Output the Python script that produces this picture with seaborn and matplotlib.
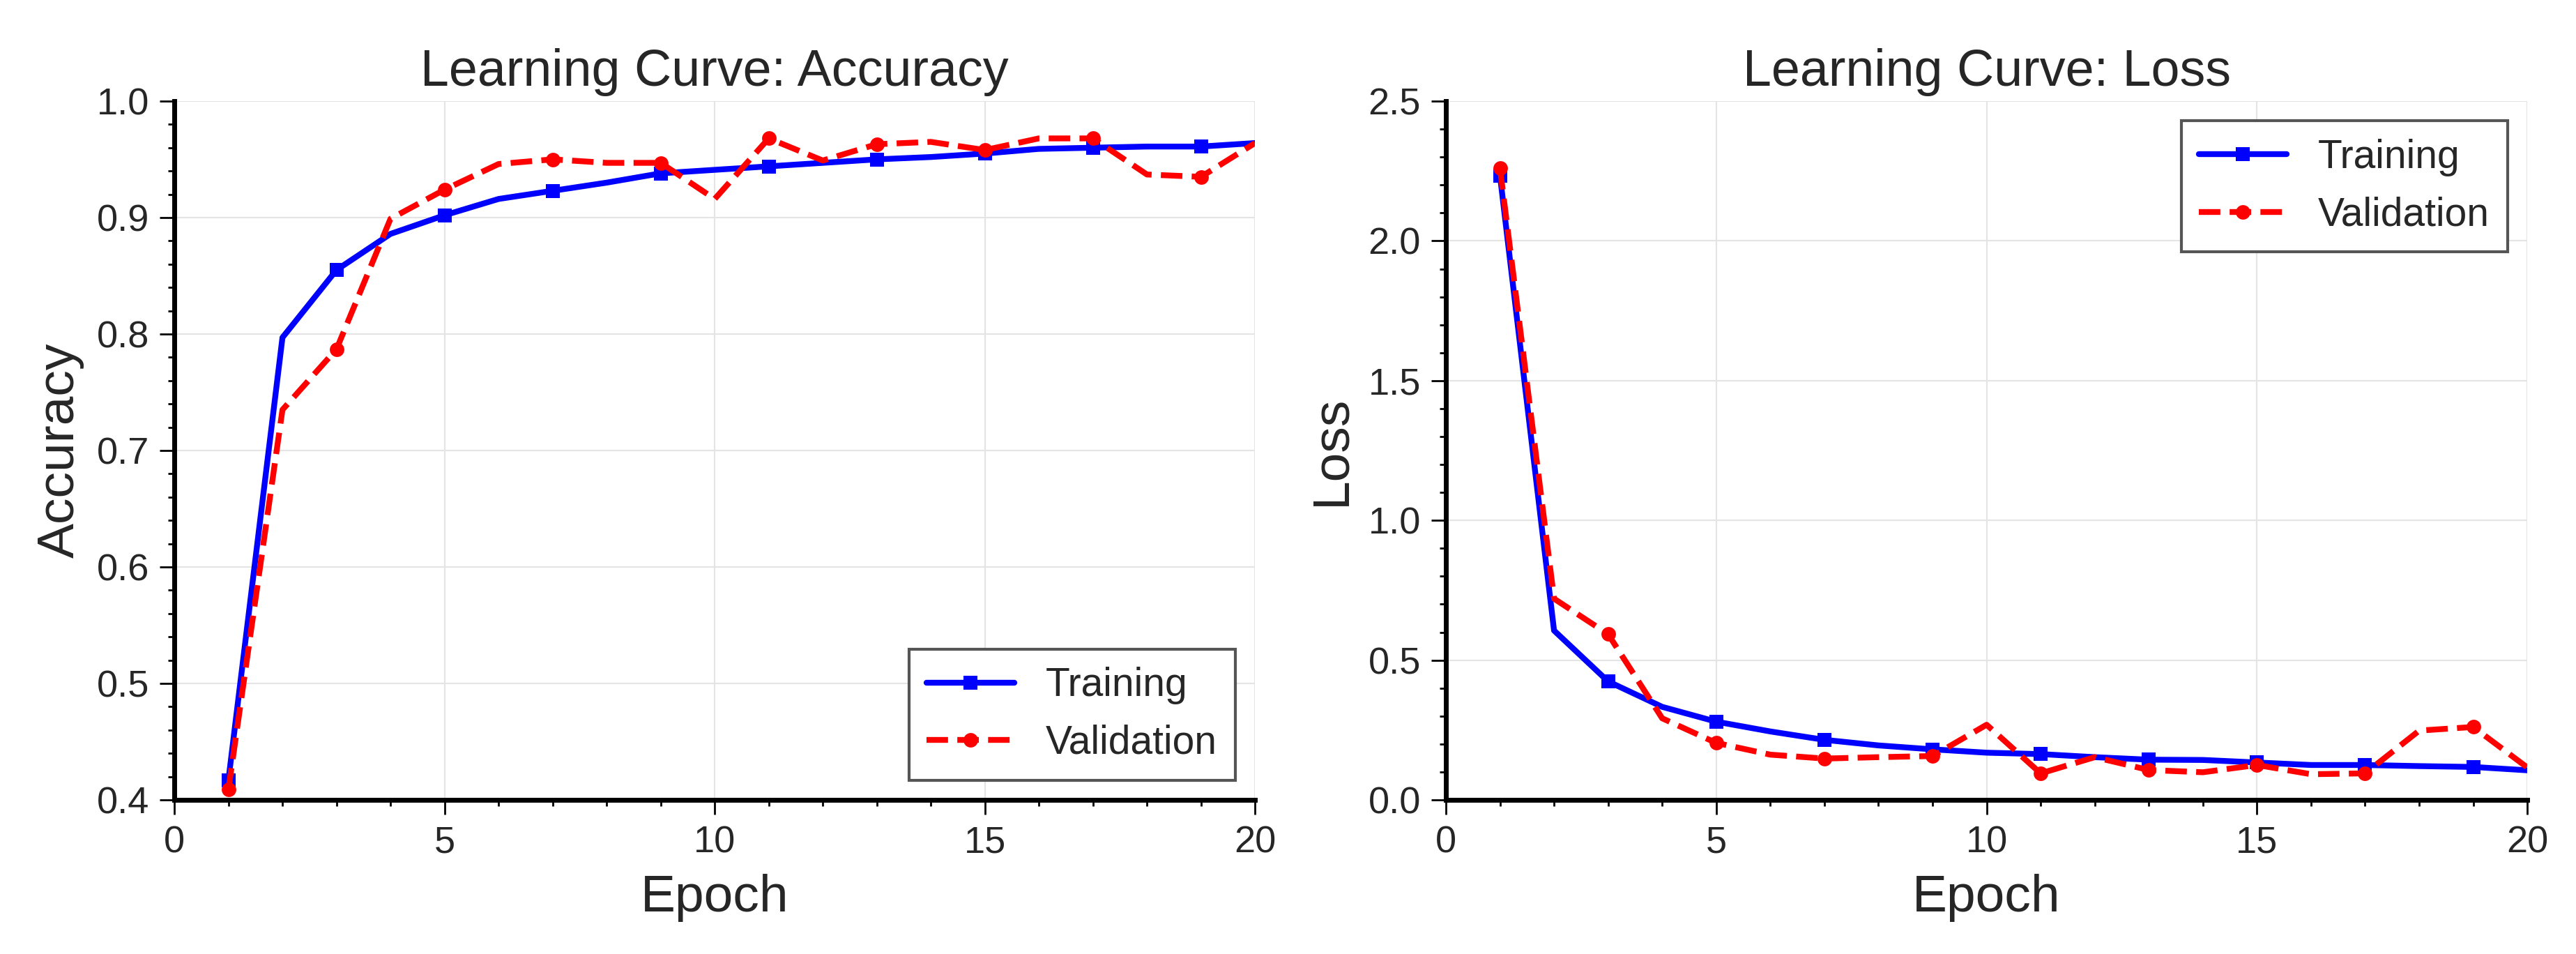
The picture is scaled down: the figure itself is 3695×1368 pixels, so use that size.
import pandas as pd
import matplotlib
matplotlib.use("Agg")
import matplotlib.pyplot as plt
import seaborn as sns
from matplotlib.ticker import MultipleLocator

# values
epochs = list(range(1, 21))
train_acc = [0.417, 0.797, 0.855, 0.886, 0.902, 0.916, 0.923, 0.930, 0.938, 0.941,
             0.944, 0.947, 0.950, 0.952, 0.955, 0.959, 0.960, 0.961, 0.961, 0.964]
val_acc = [0.409, 0.735, 0.787, 0.899, 0.924, 0.946, 0.950, 0.947, 0.947, 0.916,
           0.968, 0.949, 0.963, 0.965, 0.958, 0.968, 0.968, 0.937, 0.935, 0.964]
train_loss = [2.234, 0.606, 0.424, 0.333, 0.280, 0.245, 0.215, 0.195, 0.181, 0.169,
              0.164, 0.153, 0.144, 0.143, 0.134, 0.125, 0.125, 0.121, 0.118, 0.106]
val_loss = [2.26, 0.72, 0.593, 0.292, 0.204, 0.162, 0.148, 0.153, 0.157, 0.269,
            0.095, 0.153, 0.107, 0.099, 0.125, 0.092, 0.095, 0.248, 0.261, 0.116]

df = pd.DataFrame({
    "epoch": epochs,
    "train_acc": train_acc,
    "val_acc": val_acc,
    "train_loss": train_loss,
    "val_loss": val_loss,
})

sns.set_style("white")
plt.rcParams["font.family"] = ["Liberation Sans", "DejaVu Sans"]

fig = plt.figure(figsize=(36.95, 13.68), dpi=100)
ax1 = fig.add_axes([0.0677, 0.1615, 0.4195, 0.7325])
ax2 = fig.add_axes([0.5613, 0.1615, 0.4198, 0.7325])

line_kw = dict(lw=6, markersize=15, markevery=2)


def draw(ax, ytrain, yval, title, ylabel, ylim, ymajor, yminor, legend_loc):
    sns.lineplot(data=df, x="epoch", y=ytrain, ax=ax, color="blue", marker="s",
                 markeredgecolor="blue", markeredgewidth=0, label="Training", **line_kw)
    sns.lineplot(data=df, x="epoch", y=yval, ax=ax, color="red", marker="o",
                 linestyle="--", markeredgecolor="red", markeredgewidth=0,
                 label="Validation", **line_kw)

    ax.set_xlim(0, 20)
    ax.set_ylim(*ylim)
    ax.xaxis.set_major_locator(MultipleLocator(5))
    ax.xaxis.set_minor_locator(MultipleLocator(1))
    ax.yaxis.set_major_locator(MultipleLocator(ymajor))
    ax.yaxis.set_minor_locator(MultipleLocator(yminor))

    ax.grid(True, which="major", color="#e4e4e4", lw=1.5)
    ax.set_axisbelow(True)
    for side in ["top", "right"]:
        ax.spines[side].set_visible(False)
    for side in ["left", "bottom"]:
        ax.spines[side].set_color("black")
        ax.spines[side].set_linewidth(5)

    ax.tick_params(which="major", direction="out", length=15, width=2,
                   labelsize=39, pad=11, color="black", left=True, bottom=True)
    ax.tick_params(which="minor", direction="out", length=6.5, width=2,
                   color="black", left=True, bottom=True)

    ax.set_title(title, fontsize=53, pad=16)
    ax.set_xlabel("Epoch", fontsize=54, labelpad=14)
    ax.set_ylabel(ylabel, fontsize=54, labelpad=13)

    leg = ax.legend(loc=legend_loc, fontsize=41, frameon=True, fancybox=False,
                    edgecolor="#555555", framealpha=1, handlelength=2.2,
                    handletextpad=0.8, borderaxespad=0.5, borderpad=0.45)
    leg.get_frame().set_linewidth(3)


draw(ax1, "train_acc", "val_acc", "Learning Curve: Accuracy", "Accuracy",
     (0.4, 1.0), 0.1, 0.02, "lower right")
draw(ax2, "train_loss", "val_loss", "Learning Curve: Loss", "Loss",
     (0.0, 2.5), 0.5, 0.1, "upper right")

fig.savefig("out.png", dpi=100)
